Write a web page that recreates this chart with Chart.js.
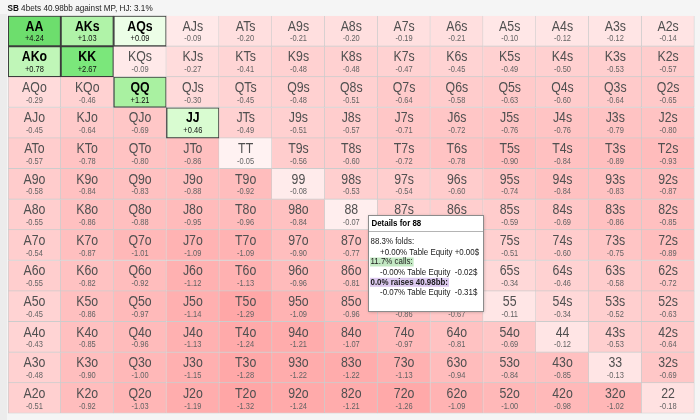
<!DOCTYPE html>
<html>
<head>
<meta charset="utf-8">
<title>SB 4bets range</title>
<script src="https://cdn.jsdelivr.net/npm/chart.js@4.4.1/dist/chart.umd.min.js"></script>
<style>
  html, body { margin: 0; padding: 0; background: #f3f3f3; }
  #wrap { width: 700px; height: 420px; }
</style>
</head>
<body>
<div id="wrap"><canvas id="grid" width="700" height="420"></canvas></div>
<script>
const titleBold = 'SB';
const titleRest = ' 4bets 40.98bb against MP, HJ: 3.1%';

const ranks = ['A', 'K', 'Q', 'J', 'T', '9', '8', '7', '6', '5', '4', '3', '2'];

// EV per cell, one array per row (row rank first)
const evA = [4.24, 1.03, 0.09, -0.09, -0.20, -0.21, -0.20, -0.19, -0.21, -0.10, -0.12, -0.12, -0.14];
const evK = [0.78, 2.67, -0.09, -0.27, -0.41, -0.48, -0.48, -0.47, -0.45, -0.49, -0.50, -0.53, -0.57];
const evQ = [-0.29, -0.46, 1.21, -0.30, -0.45, -0.48, -0.51, -0.64, -0.58, -0.63, -0.60, -0.64, -0.65];
const evJ = [-0.45, -0.64, -0.69, 0.46, -0.49, -0.51, -0.57, -0.71, -0.72, -0.76, -0.76, -0.79, -0.80];
const evT = [-0.57, -0.78, -0.80, -0.86, -0.05, -0.56, -0.60, -0.72, -0.78, -0.90, -0.84, -0.89, -0.93];
const ev9 = [-0.58, -0.84, -0.83, -0.88, -0.92, -0.08, -0.53, -0.54, -0.60, -0.74, -0.84, -0.83, -0.87];
const ev8 = [-0.55, -0.86, -0.88, -0.95, -0.96, -0.84, -0.07, -0.50, -0.55, -0.59, -0.69, -0.86, -0.85];
const ev7 = [-0.54, -0.87, -1.01, -1.09, -1.09, -0.90, -0.77, -0.10, -0.45, -0.51, -0.60, -0.75, -0.89];
const ev6 = [-0.55, -0.82, -0.92, -1.12, -1.13, -0.96, -0.81, -0.78, -0.10, -0.34, -0.46, -0.58, -0.72];
const ev5 = [-0.45, -0.86, -0.97, -1.14, -1.29, -1.09, -0.96, -0.86, -0.67, -0.11, -0.34, -0.52, -0.63];
const ev4 = [-0.43, -0.85, -0.96, -1.13, -1.24, -1.21, -1.07, -0.97, -0.81, -0.69, -0.12, -0.53, -0.64];
const ev3 = [-0.48, -0.90, -1.00, -1.15, -1.28, -1.22, -1.22, -1.13, -0.94, -0.84, -0.85, -0.13, -0.69];
const ev2 = [-0.51, -0.92, -1.03, -1.19, -1.32, -1.24, -1.21, -1.26, -1.09, -1.00, -0.98, -1.02, -0.18];
const evRows = [evA, evK, evQ, evJ, evT, ev9, ev8, ev7, ev6, ev5, ev4, ev3, ev2];

const raiseHands = ['AA', 'AKs', 'AQs', 'AKo', 'KK', 'QQ', 'JJ'];

// popup shown for one hand
const detailHand = '88';
const detailTitle = 'Details for 88';
const detailLines = [
  { text: '88.3% folds:', indent: false, bold: false, mark: null },
  { text: '+0.00% Table Equity +0.00$', indent: true, bold: false, mark: null },
  { text: '11.7% calls:', indent: false, bold: false, mark: '#c3e9c3' },
  { text: '-0.00% Table Equity  -0.02$', indent: true, bold: false, mark: null },
  { text: '0.0% raises 40.98bb:', indent: false, bold: true, mark: '#dcc9ef' },
  { text: '-0.07% Table Equity  -0.31$', indent: true, bold: false, mark: null }
];

const FONT = '"Liberation Sans", Arial, sans-serif';
const SQUEEZE = 0.88;

function handName(r, c) {
  if (r === c) return ranks[r] + ranks[c];
  if (c > r) return ranks[r] + ranks[c] + 's';
  return ranks[c] + ranks[r] + 'o';
}

function mix(stops, v) {
  if (v >= stops[0][0]) return stops[0].slice(1);
  for (let i = 1; i < stops.length; i++) {
    if (v >= stops[i][0]) {
      const a = stops[i - 1], b = stops[i];
      const t = (v - a[0]) / (b[0] - a[0]);
      return [1, 2, 3].map(k => Math.round(a[k] + (b[k] - a[k]) * t));
    }
  }
  return stops[stops.length - 1].slice(1);
}

const greenStops = [[4.3, 108, 222, 108], [2.7, 122, 231, 122], [1.1, 172, 242, 164], [0.8, 190, 246, 182], [0.45, 218, 252, 210], [0.0, 240, 255, 236]];
const redStops = [[0.0, 255, 248, 248], [-0.05, 255, 242, 242], [-0.1, 255, 231, 231], [-0.2, 255, 223, 223], [-0.5, 255, 208, 208], [-0.9, 255, 190, 190], [-1.35, 255, 164, 164]];

function cellColor(v) {
  const rgb = v > 0 ? mix(greenStops, v) : mix(redStops, v);
  return 'rgb(' + rgb.join(',') + ')';
}

function fmt(v) {
  return (v > 0 ? '+' : '') + v.toFixed(2);
}

function squeezeText(ctx, text, x, y, font, color, align, sq) {
  ctx.save();
  ctx.font = font;
  ctx.fillStyle = color;
  ctx.textAlign = align || 'center';
  ctx.textBaseline = 'middle';
  ctx.translate(x, y);
  ctx.scale(sq || SQUEEZE, 1);
  ctx.fillText(text, 0, 0);
  ctx.restore();
}

const datasets = evRows.map((row, r) => ({
  label: ranks[r],
  data: row.map(() => [r, r + 1]),
  backgroundColor: row.map(v => cellColor(v)),
  borderColor: row.map((v, c) => raiseHands.includes(handName(r, c)) ? '#3c3c3c' : '#cccccc'),
  borderWidth: ctx => {
    if (raiseHands.includes(handName(r, ctx.dataIndex))) return 1.3;
    return { top: 0, left: ctx.dataIndex === 0 ? 1 : 0, right: 1, bottom: 1 };
  },
  borderSkipped: false,
  grouped: false,
  barPercentage: 1,
  categoryPercentage: 1
}));

const gridDecor = {
  id: 'gridDecor',
  beforeDraw(chart) {
    const ctx = chart.ctx;
    ctx.save();
    ctx.fillStyle = '#f5f5f5';
    ctx.fillRect(0, 0, chart.width, chart.height);
    ctx.fillStyle = '#ececec';
    ctx.fillRect(0, 14, 7, chart.height - 14);
    ctx.restore();
  },
  afterDatasetsDraw(chart) {
    const ctx = chart.ctx;
    evRows.forEach((row, r) => {
      chart.getDatasetMeta(r).data.forEach((bar, c) => {
        const top = Math.min(bar.y, bar.base);
        const hand = handName(r, c);
        const strong = raiseHands.includes(hand);
        squeezeText(ctx, hand, bar.x, top + 11, (strong ? 'bold ' : '') + '14px ' + FONT, strong ? '#000000' : '#505050');
        squeezeText(ctx, fmt(row[c]), bar.x, top + 23.3, '8.5px ' + FONT, strong ? '#111111' : '#646464');
      });
    });
  },
  afterDraw(chart) {
    const ctx = chart.ctx;
    // header line
    const hf = '9.5px ' + FONT;
    const hs = 0.86;
    ctx.save();
    ctx.font = 'bold ' + hf;
    const wb = ctx.measureText(titleBold).width * hs;
    ctx.restore();
    squeezeText(ctx, titleBold, 7.5, 8.5, 'bold ' + hf, '#111111', 'left', hs);
    squeezeText(ctx, titleRest, 7.5 + wb, 8.5, hf, '#222222', 'left', hs);

    // popup for the hovered hand
    const r = ranks.indexOf(detailHand[0]);
    const bar = chart.getDatasetMeta(r).data[r];
    const L = Math.round(bar.x + bar.width * 0.32);
    const T = Math.round((bar.y + bar.base) / 2);
    const W = 115, H = 96;
    ctx.save();
    ctx.shadowColor = 'rgba(0,0,0,0.25)';
    ctx.shadowBlur = 3;
    ctx.shadowOffsetX = 1;
    ctx.shadowOffsetY = 1;
    ctx.fillStyle = '#ffffff';
    ctx.fillRect(L, T, W, H);
    ctx.restore();
    ctx.save();
    ctx.strokeStyle = '#8c8c8c';
    ctx.lineWidth = 1;
    ctx.strokeRect(L + 0.5, T + 0.5, W, H);
    ctx.strokeStyle = '#b4b4b4';
    ctx.beginPath();
    ctx.moveTo(L + 1, T + 16.5);
    ctx.lineTo(L + W, T + 16.5);
    ctx.stroke();
    ctx.restore();

    squeezeText(ctx, detailTitle, L + 3.5, T + 9, 'bold 9px ' + FONT, '#000000', 'left');
    const rowY = [27, 37.5, 47, 57.5, 67.3, 78];
    detailLines.forEach((ln, i) => {
      const font = (ln.bold ? 'bold ' : '') + '9px ' + FONT;
      const x = L + (ln.indent ? 12 : 2.5);
      const y = T + rowY[i];
      if (ln.mark) {
        ctx.save();
        ctx.font = font;
        const w = ctx.measureText(ln.text).width * SQUEEZE;
        ctx.fillStyle = ln.mark;
        ctx.fillRect(x - 0.5, y - 4.5, w + 1.5, 9);
        ctx.restore();
      }
      squeezeText(ctx, ln.text, x, y, font, '#1a1a1a', 'left');
    });
  }
};

new Chart(document.getElementById('grid'), {
  type: 'bar',
  data: { labels: ranks, datasets: datasets },
  options: {
    responsive: false,
    animation: false,
    events: [],
    layout: { padding: { left: 8, right: 5.5, top: 15.7, bottom: 6.5 } },
    plugins: { legend: { display: false }, tooltip: { enabled: false } },
    scales: {
      x: { type: 'category', display: false },
      y: { type: 'linear', display: false, min: 0, max: 13, reverse: true }
    }
  },
  plugins: [gridDecor]
});
</script>
</body>
</html>
